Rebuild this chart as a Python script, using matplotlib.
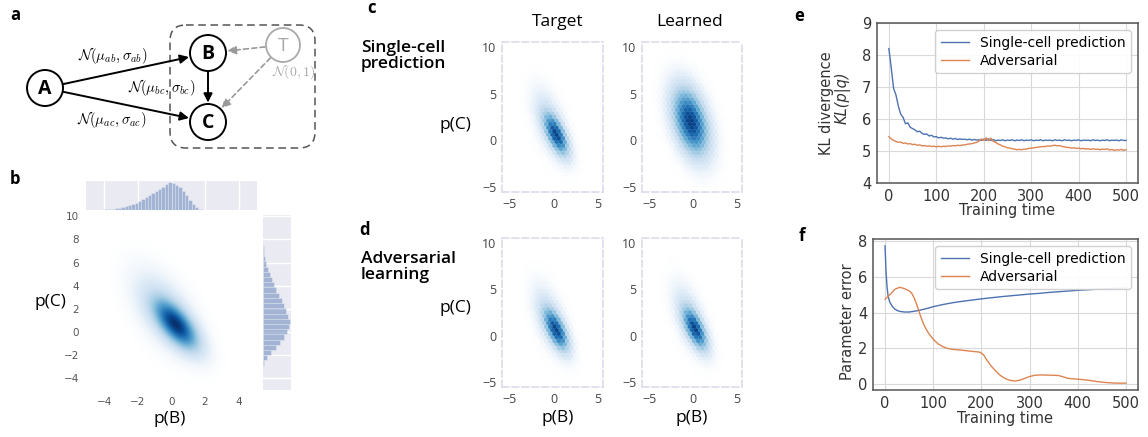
import numpy as np
import matplotlib.pyplot as plt
from matplotlib.colors import LinearSegmentedColormap
from matplotlib.patches import Circle, FancyBboxPatch, FancyArrowPatch

plt.rcParams["mathtext.fontset"] = "cm"
plt.rcParams["font.family"] = "DejaVu Sans"

W, H = 1148, 437
SANS = "Open Sans"
BLUE, ORANGE = "#4C72B0", "#DD8452"

# ---------------- data ----------------
# panel b marginal histograms (relative counts)
b_bins = np.arange(-4.2, 1.9, 0.2)
b_counts = [0.01, 0.02, 0.03, 0.04, 0.06, 0.08, 0.11, 0.14, 0.18, 0.22,
            0.27, 0.33, 0.39, 0.46, 0.53, 0.61, 0.69, 0.77, 0.85, 0.93,
            1.00, 0.98, 0.92, 0.82, 0.70, 0.55, 0.38, 0.22, 0.10, 0.03, 0.01]
c_bins = np.arange(-2.9, 7.2, 0.45)
c_counts = [0.05, 0.15, 0.30, 0.50, 0.65, 0.80, 0.90, 0.97, 1.00, 0.95,
            0.88, 0.80, 0.70, 0.60, 0.50, 0.40, 0.32, 0.25, 0.18, 0.12,
            0.08, 0.04, 0.02]

# densities: (weight, mean B, mean C, sd B, sd C, correlation)
target_parts = [(0.7, 0.3, 0.6, 0.8, 1.3, -0.65), (0.3, -0.4, 1.8, 1.1, 2.0, -0.55)]
learned_sc_parts = [(1.0, -0.3, 2.0, 1.2, 2.1, -0.4)]
learned_adv_parts = [(0.7, 0.25, 0.7, 0.8, 1.3, -0.65), (0.3, -0.4, 1.9, 1.1, 2.0, -0.55)]

# panel e: KL divergence over training time
kl_time = np.arange(0, 501, 5)
kl_single = [8.20, 7.60, 6.95, 6.75, 6.40, 6.15, 6.05, 5.85, 5.88, 5.74, 5.70,
             5.66, 5.60, 5.62, 5.55, 5.52, 5.53, 5.47, 5.49, 5.44, 5.45,
             5.41, 5.43, 5.40, 5.41, 5.38, 5.40, 5.37, 5.39, 5.36, 5.38,
             5.36, 5.37, 5.35, 5.37, 5.34, 5.36, 5.34, 5.35, 5.33, 5.37,
             5.33, 5.38, 5.33, 5.36, 5.32, 5.34, 5.33, 5.35, 5.32, 5.34,
             5.33, 5.35, 5.32, 5.34, 5.33, 5.35, 5.32, 5.34, 5.33, 5.35,
             5.32, 5.34, 5.33, 5.35, 5.32, 5.34, 5.33, 5.34, 5.32, 5.35,
             5.33, 5.34, 5.32, 5.35, 5.33, 5.34, 5.32, 5.34, 5.33, 5.35,
             5.32, 5.34, 5.33, 5.34, 5.32, 5.35, 5.33, 5.34, 5.32, 5.34,
             5.33, 5.35, 5.32, 5.34, 5.33, 5.34, 5.32, 5.35, 5.33, 5.33]
kl_adv = [5.45, 5.38, 5.33, 5.30, 5.27, 5.28, 5.24, 5.25, 5.22, 5.23, 5.20,
          5.21, 5.18, 5.19, 5.16, 5.17, 5.15, 5.16, 5.14, 5.15, 5.13,
          5.15, 5.13, 5.15, 5.14, 5.16, 5.15, 5.17, 5.16, 5.18, 5.17,
          5.19, 5.19, 5.21, 5.22, 5.23, 5.25, 5.27, 5.31, 5.38, 5.33,
          5.41, 5.32, 5.40, 5.30, 5.27, 5.22, 5.19, 5.15, 5.13, 5.10,
          5.09, 5.07, 5.06, 5.04, 5.05, 5.04, 5.06, 5.06, 5.08, 5.09,
          5.10, 5.11, 5.12, 5.13, 5.14, 5.14, 5.16, 5.15, 5.17, 5.18,
          5.16, 5.17, 5.14, 5.13, 5.11, 5.11, 5.09, 5.10, 5.08, 5.09,
          5.07, 5.08, 5.06, 5.07, 5.05, 5.07, 5.05, 5.06, 5.04, 5.06,
          5.05, 5.07, 5.03, 5.05, 5.02, 5.04, 5.03, 5.05, 5.02, 5.04]

# panel f: parameter error over training time
pe_single_t = [0, 2, 4, 6, 8, 10, 15, 20, 25, 30, 40, 50, 60, 70, 80, 90, 100,
               120, 140, 160, 180, 200, 220, 240, 260, 280, 300, 320, 340, 360,
               380, 400, 420, 440, 460, 480, 500]
pe_single = [7.75, 6.3, 5.5, 5.0, 4.75, 4.58, 4.35, 4.2, 4.12, 4.07, 4.03, 4.03,
             4.07, 4.12, 4.18, 4.25, 4.33, 4.45, 4.55, 4.63, 4.7, 4.77, 4.83,
             4.89, 4.94, 4.99, 5.04, 5.08, 5.13, 5.17, 5.21, 5.25, 5.28, 5.31,
             5.34, 5.36, 5.38]
pe_adv_t = [0, 10, 20, 30, 40, 50, 55, 60, 65, 70, 75, 80, 85, 90, 100, 110, 120,
            130, 140, 160, 180, 195, 200, 205, 210, 220, 230, 240, 250, 260, 270,
            280, 290, 300, 310, 320, 340, 360, 370, 380, 400, 410, 420, 440, 460,
            480, 500]
pe_adv = [4.75, 5.0, 5.3, 5.42, 5.35, 5.22, 5.1, 4.85, 4.5, 4.1, 3.7, 3.35, 3.08,
          2.85, 2.5, 2.24, 2.08, 1.98, 1.93, 1.88, 1.82, 1.78, 1.72, 1.6, 1.38,
          1.0, 0.7, 0.45, 0.28, 0.18, 0.15, 0.2, 0.3, 0.4, 0.47, 0.49, 0.48,
          0.46, 0.38, 0.3, 0.25, 0.23, 0.2, 0.12, 0.06, 0.03, 0.03]

fig = plt.figure(figsize=(W / 100, H / 100), dpi=100)

# white-to-blue map (like seaborn's shaded kde)
blues = LinearSegmentedColormap.from_list(
    "wblues", ["white"] + [plt.cm.Blues(v) for v in np.linspace(0.12, 1.0, 10)])


def px_axes(x0, y0, x1, y1):
    return fig.add_axes([x0 / W, 1 - y1 / H, (x1 - x0) / W, (y1 - y0) / H])


def ftext(x, y, s, **kw):
    return fig.text(x / W, 1 - y / H, s, **kw)


def mixture_pdf(bb, cc, parts):
    z = np.zeros_like(bb)
    for w, mb, mc, sb, sc, r in parts:
        db = (bb - mb) / sb
        dc = (cc - mc) / sc
        q = (db ** 2 - 2 * r * db * dc + dc ** 2) / (1 - r ** 2)
        z += w * np.exp(-q / 2) / (2 * np.pi * sb * sc * np.sqrt(1 - r ** 2))
    return z


# ---------------- panel a: graph ----------------
ax = px_axes(0, 0, 330, 160)
ax.set_xlim(0, 330)
ax.set_ylim(160, 0)
ax.axis("off")

ax.add_patch(FancyBboxPatch((170, 25), 145, 123, boxstyle="round,pad=0,rounding_size=16",
                            fill=False, ec="#555555", lw=1.1, ls=(0, (5, 3))))
nodes = {"A": (45, 88), "B": (208, 53), "C": (208, 122)}
for name, (x, y) in nodes.items():
    ax.add_patch(Circle((x, y), 18, fc="white", ec="black", lw=1.4, zorder=3))
    ax.text(x, y + 1, name, ha="center", va="center", fontsize=14, fontweight="bold",
            family=SANS, zorder=4)
ax.add_patch(Circle((283, 45), 17, fc="white", ec="#aaaaaa", lw=1.3, zorder=3))
ax.text(283, 46, "T", ha="center", va="center", fontsize=14, color="#aaaaaa",
        family=SANS, zorder=4)


def arrow(p0, p1, color="black", ls="-", lw=1.4):
    ax.add_patch(FancyArrowPatch(p0, p1, arrowstyle="-|>", mutation_scale=13, color=color,
                                 lw=lw, ls=ls, shrinkA=13, shrinkB=14, zorder=2))


arrow(nodes["A"], nodes["B"])
arrow(nodes["A"], nodes["C"])
arrow(nodes["B"], nodes["C"])
arrow((283, 45), nodes["B"], color="#9a9a9a", ls=(0, (3, 2)), lw=1.2)
arrow((283, 45), nodes["C"], color="#9a9a9a", ls=(0, (3, 2)), lw=1.2)

ax.text(113, 55, r"$\mathcal{N}(\mu_{ab},\sigma_{ab})$", ha="center", va="center", fontsize=10.5)
ax.text(162, 88, r"$\mathcal{N}(\mu_{bc},\sigma_{bc})$", ha="center", va="center", fontsize=10.5)
ax.text(112, 120, r"$\mathcal{N}(\mu_{ac},\sigma_{ac})$", ha="center", va="center", fontsize=10.5)
ax.text(294, 72, r"$\mathcal{N}(0,1)$", ha="center", va="center", fontsize=10, color="#aaaaaa")

# ---------------- panel b: joint density ----------------
xs = np.linspace(-5.1, 5.1, 300)
ys = np.linspace(-5, 10.1, 420)
BB, CC = np.meshgrid(xs, ys)
zb = mixture_pdf(BB, CC, target_parts)

axb = px_axes(86, 215, 257, 390)
axb.imshow((zb / zb.max()) ** 0.85, origin="lower", extent=(-5.1, 5.1, -5, 10.1),
           aspect="auto", cmap=blues, vmin=0, vmax=1, interpolation="bilinear")
axb.set_xlim(-5.1, 5.1)
axb.set_ylim(-5, 10.1)
axb.set_xticks([-4, -2, 0, 2, 4])
axb.set_yticks([-4, -2, 0, 2, 4, 6, 8, 10])
axb.tick_params(length=0, labelsize=7.5, labelcolor="#555555", pad=5)
for s in axb.spines.values():
    s.set_visible(False)

axt = px_axes(86, 181, 257, 210)
axt.set_facecolor("#EAEAF2")
axt.bar(b_bins, b_counts, width=0.2, align="edge", color=BLUE, alpha=0.45,
        edgecolor="white", lw=0.4, zorder=2)
axt.set_xlim(-5.1, 5.1)
axt.set_ylim(0, 1.05)
axt.set_xticks([-4, -2, 0, 2, 4])
axt.set_yticks([])
axt.grid(axis="x", color="white", lw=1)
axt.tick_params(length=0, labelbottom=False)
for s in axt.spines.values():
    s.set_visible(False)

axr = px_axes(263, 215, 291, 390)
axr.set_facecolor("#EAEAF2")
axr.barh(c_bins, c_counts, height=0.45, align="edge", color=BLUE, alpha=0.45,
         edgecolor="white", lw=0.4, zorder=2)
axr.set_ylim(-5, 10.1)
axr.set_xlim(0, 1.05)
axr.set_yticks([-4, -2, 0, 2, 4, 6, 8, 10])
axr.set_xticks([])
axr.grid(axis="y", color="white", lw=1)
axr.tick_params(length=0, labelleft=False)
for s in axr.spines.values():
    s.set_visible(False)

ftext(50, 302, "p(C)", ha="center", va="center", fontsize=12.5, family=SANS)
ftext(170, 419, "p(B)", ha="center", va="center", fontsize=12.5, family=SANS)

# ---------------- panels c, d: hexbin densities ----------------
hx = np.linspace(-5.9, 5.6, 160)
hy = np.linspace(-5.5, 10.5, 220)
HB, HC = np.meshgrid(hx, hy)
panels = [((502, 42, 603, 192), target_parts), ((642, 42, 742, 192), learned_sc_parts),
          ((502, 238, 603, 387), target_parts), ((642, 238, 742, 387), learned_adv_parts)]
for box, parts in panels:
    a = px_axes(*box)
    z = mixture_pdf(HB, HC, parts).ravel()
    a.hexbin(HB.ravel(), HC.ravel(), C=(z / z.max()) ** 0.8, gridsize=(24, 21), cmap=blues,
             extent=(-5.9, 5.6, -5.5, 10.5), reduce_C_function=np.mean,
             vmin=0, vmax=1.05, linewidths=0.2, edgecolors="face")
    a.set_xlim(-5.9, 5.6)
    a.set_ylim(-5.5, 10.5)
    a.set_xticks([-5, 0, 5])
    a.set_yticks([-5, 0, 5, 10])
    a.tick_params(length=0, labelsize=9, labelcolor="#444444", pad=4)
    for lab in a.get_xticklabels() + a.get_yticklabels():
        lab.set_family(SANS)
    for s in a.spines.values():
        s.set_color("#dcdcea")
        s.set_linestyle((0, (4, 2)))
        s.set_linewidth(1.2)

ftext(558, 22, "Target", ha="center", va="center", fontsize=12.5, family=SANS)
ftext(690, 22, "Learned", ha="center", va="center", fontsize=12.5, family=SANS)
ftext(361, 56, "Single-cell\nprediction", ha="left", va="center", fontsize=12.5,
      family=SANS, fontweight="semibold", linespacing=1.05)
ftext(361, 267, "Adversarial\nlearning", ha="left", va="center", fontsize=12.5,
      family=SANS, fontweight="semibold", linespacing=1.05)
ftext(455, 125, "p(C)", ha="center", va="center", fontsize=12.5, family=SANS)
ftext(455, 308, "p(C)", ha="center", va="center", fontsize=12.5, family=SANS)
ftext(558, 418, "p(B)", ha="center", va="center", fontsize=12.5, family=SANS)
ftext(692, 418, "p(B)", ha="center", va="center", fontsize=12.5, family=SANS)

# ---------------- panels e, f: training curves ----------------
def style_curve_axes(a):
    a.grid(color="#d9d9d9", lw=0.8)
    a.set_axisbelow(True)
    a.tick_params(length=0, labelsize=10.5, labelcolor="#333333", pad=4)
    for s in a.spines.values():
        s.set_color("#555555")
        s.set_linewidth(1.1)
    a.set_xticks([0, 100, 200, 300, 400, 500])
    a.legend(loc="upper right", fontsize=10, frameon=True, edgecolor="#cccccc",
             framealpha=0.9, handlelength=2.0, borderpad=0.4, labelspacing=0.3)


axe = px_axes(877, 23, 1138, 183)
axe.plot(kl_time, kl_single, color=BLUE, lw=1.0, label="Single-cell prediction")
axe.plot(kl_time, kl_adv, color=ORANGE, lw=1.0, label="Adversarial")
axe.set_ylim(4, 9)
axe.set_yticks([4, 5, 6, 7, 8, 9])
style_curve_axes(axe)

axf = px_axes(873, 239, 1138, 390)
axf.plot(pe_single_t, pe_single, color=BLUE, lw=1.0, label="Single-cell prediction")
axf.plot(pe_adv_t, pe_adv, color=ORANGE, lw=1.0, label="Adversarial")
axf.set_yticks([0, 2, 4, 6, 8])
style_curve_axes(axf)

ftext(827, 103, "KL divergence", ha="center", va="center", rotation=90, fontsize=10.5,
      color="#333333")
ftext(843, 98, "KL(p|q)", ha="center", va="center", rotation=90, fontsize=10.5,
      color="#333333", style="italic")
ftext(1007, 211, "Training time", ha="center", va="center", fontsize=10.5, color="#333333")
ftext(847, 322, "Parameter error", ha="center", va="center", rotation=90, fontsize=10.5,
      color="#333333")
ftext(1005, 418, "Training time", ha="center", va="center", fontsize=10.5, color="#333333")

# ---------------- panel letters ----------------
for x, y, s in [(15, 15, "a"), (15, 179, "b"), (372, 8, "c"), (365, 230, "d"),
                (799, 16, "e"), (802, 236, "f")]:
    ftext(x, y, s, ha="center", va="center", fontsize=12, fontweight="bold", family=SANS)

fig.savefig("out.png", dpi=100)
